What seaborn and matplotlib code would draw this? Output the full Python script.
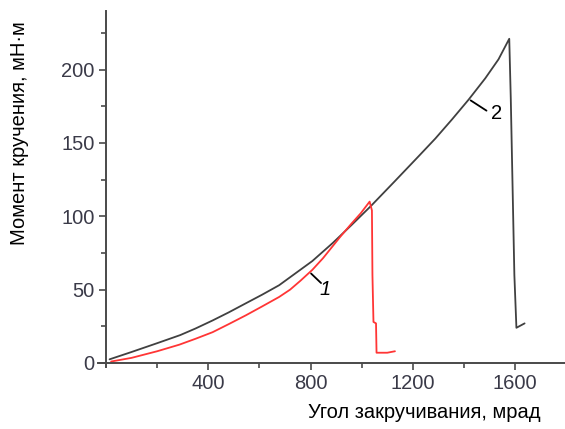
import matplotlib
matplotlib.use('Agg')
import matplotlib.pyplot as plt
import seaborn as sns
from matplotlib.ticker import FixedLocator

sns.set_theme(style='white')
plt.rcParams['font.family'] = ['Liberation Sans', 'DejaVu Sans']

# Curve 1 (red): angle, mrad / torque, mN·m
angle_1 = [20, 100, 200, 287, 350, 417, 480, 547, 610, 677, 720, 760, 807, 849, 916,
           960, 996, 1031, 1040, 1042, 1046, 1056, 1058, 1100, 1130]
torque_1 = [1, 3.5, 8, 12.5, 16.5, 21, 26.5, 32.5, 38.5, 45, 50, 56, 63.5, 71.5, 86,
            95, 102, 110, 104, 60, 28, 27, 7, 7, 8]

# Curve 2 (black)
angle_2 = [14, 100, 200, 290, 350, 417, 480, 547, 610, 677, 740, 807, 888, 960,
           1036, 1130, 1223, 1288, 1353, 1418, 1483, 1535, 1577,
           1583, 1590, 1597, 1605, 1637]
torque_2 = [2.5, 7.5, 13.5, 19, 23.5, 29, 34.5, 40.7, 46.5, 53, 61, 69.5, 82, 94,
            107, 124, 141, 153, 166, 179.5, 194, 207, 221,
            180, 120, 60, 24, 27]

x_major = [400, 800, 1200, 1600]
x_minor = [200, 600, 1000, 1400]
y_major = [0, 50, 100, 150, 200]
y_minor = [25, 75, 125, 175, 225]

fig = plt.figure(figsize=(5.65, 4.29), dpi=100)
ax = fig.add_axes([0.174, 0.1436, 0.826, 0.831])

sns.lineplot(x=angle_2, y=torque_2, sort=False, estimator=None,
             color='#404040', lw=1.3, ax=ax)
sns.lineplot(x=angle_1, y=torque_1, sort=False, estimator=None,
             color='#ff3535', lw=1.3, ax=ax)

ax.set_xlim(-30, 1795)
ax.set_ylim(-3, 240)
ax.spines['left'].set_position(('data', 0))
ax.spines['bottom'].set_position(('data', 0))
for s in ['top', 'right']:
    ax.spines[s].set_visible(False)
for s in ['left', 'bottom']:
    ax.spines[s].set_color('#4a4a4a')
    ax.spines[s].set_linewidth(1.4)

ax.xaxis.set_major_locator(FixedLocator(x_major))
ax.xaxis.set_minor_locator(FixedLocator(x_minor))
ax.yaxis.set_major_locator(FixedLocator(y_major))
ax.yaxis.set_minor_locator(FixedLocator(y_minor))
ax.tick_params(which='major', direction='out', length=5, width=1.2, color='#4a4a4a',
               labelsize=14.5, labelcolor='#3a3a48', bottom=True, left=True, pad=3)
ax.tick_params(which='minor', direction='out', length=3.5, width=1.2, color='#4a4a4a',
               bottom=True, left=True)
ax.set_xlabel('')
ax.set_ylabel('')

# curve labels
ax.plot([802, 841], [61, 54.5], color='black', lw=1.3)
ax.text(856, 50, '1', fontsize=14.5, style='italic', ha='center', va='center', color='black')
ax.plot([1426, 1488], [179, 172], color='black', lw=1.3)
ax.text(1527, 170, '2', fontsize=14.5, ha='center', va='center', color='black')

fig.text(424 / 565, 1 - 413 / 429, 'Угол закручивания, мрад', fontsize=14.5,
         ha='center', va='center', color='black')
fig.text(20 / 565, 1 - 133 / 429, 'Момент кручения, мН·м', fontsize=14.5,
         ha='center', va='center', rotation=90, color='black')

fig.savefig('out.png', dpi=100)
